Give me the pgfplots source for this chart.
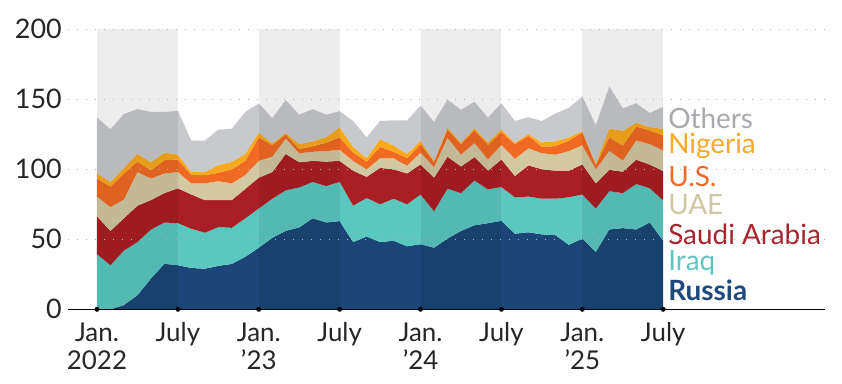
\documentclass[border=0pt]{standalone}
\usepackage{pgfplots}
\pgfplotsset{compat=1.18}
\usepackage{pgfplotstable}
\usepackage{fontspec}
\setmainfont{Lato}

\definecolor{russia}{HTML}{1B4677}
\definecolor{iraq}{HTML}{5BC8C0}
\definecolor{saudi}{HTML}{AA1E25}
\definecolor{uae}{HTML}{D2C8A2}
\definecolor{us}{HTML}{F06A24}
\definecolor{nigeria}{HTML}{F8AA1C}
\definecolor{others}{HTML}{C8C9CD}
\definecolor{tRussia}{HTML}{1E4A7B}
\definecolor{tIraq}{HTML}{62C5BF}
\definecolor{tSaudi}{HTML}{A9232C}
\definecolor{tUAE}{HTML}{CFC6A4}
\definecolor{tUS}{HTML}{EE6B2C}
\definecolor{tNigeria}{HTML}{F7A928}
\definecolor{tOthers}{HTML}{A8A9AD}

\pgfplotstableread{
m R I S U US N O
0 0 39.4 27 14.1 12.9 3.6 40
1 0 31.5 24.5 17 14.6 3.4 37.6
2 3 39 23 13.5 18.5 4 38.5
3 10 38 26 24 7.5 5.5 32
4 22 35 21 15.4 5.9 5.7 36
5 32.5 29.5 21 14 9.5 5.5 29
6 31.5 30 24.9 11.6 9 3.5 31.2
7 29.5 28 24.5 8 6 2 22.5
8 29 25.7 23.3 12 5.8 2.2 22.4
9 31 27.7 19.3 13.5 6 5.5 25.3
10 32.4 25.8 19.8 12 10 5.3 23.7
11 37.5 27.5 21 10 10 5 30
12 44 28 22 12 16.8 3.5 20.7
13 51 28 19 11 8.2 1.3 18
14 56 29 26 11 3 1 23.5
15 58.5 28.5 18 6.5 3 3.5 21
16 65 26 15 6.5 4 3.5 23
17 62 26 17.5 7.5 6 4 16
18 63 28 15 8 8.8 7.2 11.5
19 48 26 25 7 6 4 18.5
20 52 27.5 15.1 5.4 5.5 2.5 14.8
21 48 27 26 7 8 5.6 12.9
22 49 30 21 8 4.5 4.5 18
23 45 30 22 5.5 5.5 3 24
24 46.5 35.5 21.5 8.5 6 2.5 25
25 44 26 24 7.6 3.6 0.8 27.8
26 50.5 35.7 22.8 13.5 5.9 1.4 20
27 56 27 19 8.5 7.5 1 23.5
28 60 32 16.7 10.1 9.2 1.5 18.7
29 61.5 24.2 13.3 8 10.5 1.7 17.7
30 63.2 24.1 19.7 10.5 9 2.1 18.6
31 54 26 15.2 12.3 10.5 1 15.5
32 55 25.5 22.3 12.2 9 1.3 11.9
33 53.5 25.5 21 11.5 4.5 3.2 15.3
34 53 26 20 11.5 6.1 3.4 19.8
35 46 34 19 14 7.4 2.4 21.1
36 50.5 31.5 21.5 13.7 9.3 1 24.5
37 41 31 18 10 3 1 27.5
38 57 27.3 15.3 13.6 9.6 6.4 30
39 58 25 15.3 8 10.7 10.5 16
40 57 32.5 17.3 13.8 10 2.7 13.9
41 62 24.5 16.9 14.6 9.7 2.5 10
42 49 28.8 20.9 14.7 10.8 4.6 15.8
}\imports

\begin{document}
\begin{tikzpicture}
\begin{axis}[
  scale only axis, width=757bp, height=280bp,
  xmin=-2.15, xmax=54, ymin=0, ymax=200,
  clip=false, axis on top,
  axis x line*=bottom, axis y line*=left,
  y axis line style={draw=none},
  x axis line style={line width=1.3bp, black, -},
  major tick length=0pt,
  ytick={0,50,100,150,200},
  yticklabels={0,50,100,150,200},
  yticklabel style={font=\fontsize{27}{27}\selectfont, text=black!85, inner sep=0pt, xshift=-6bp},
  xtick={0,6,12,18,24,30,36,42},
  xticklabels={{Jan.\\2022},{July},{Jan.\\’23},{July},{Jan.\\’24},{July},{Jan.\\’25},{July}},
  xticklabel style={font=\fontsize{26}{29}\selectfont, text=black!85, align=center, inner sep=0pt, yshift=-13bp},
  ymajorgrids,
  grid style={black!30, line width=1.2bp, dash pattern=on 1.2bp off 7.8bp},
]
\addplot[stack plots=y, draw=none, fill=russia] table[x=m,y=R]{\imports} \closedcycle;
\addplot[stack plots=y, draw=none, fill=iraq] table[x=m,y=I]{\imports} \closedcycle;
\addplot[stack plots=y, draw=none, fill=saudi] table[x=m,y=S]{\imports} \closedcycle;
\addplot[stack plots=y, draw=none, fill=uae] table[x=m,y=U]{\imports} \closedcycle;
\addplot[stack plots=y, draw=none, fill=us] table[x=m,y=US]{\imports} \closedcycle;
\addplot[stack plots=y, draw=none, fill=nigeria] table[x=m,y=N]{\imports} \closedcycle;
\addplot[stack plots=y, draw=none, fill=others] table[x=m,y=O]{\imports} \closedcycle;

\addplot[draw=none, fill=black, fill opacity=0.07] coordinates {(0,200) (6,200)} \closedcycle;
\addplot[draw=none, fill=black, fill opacity=0.07] coordinates {(12,200) (18,200)} \closedcycle;
\addplot[draw=none, fill=black, fill opacity=0.07] coordinates {(24,200) (30,200)} \closedcycle;
\addplot[draw=none, fill=black, fill opacity=0.07] coordinates {(36,200) (42,200)} \closedcycle;

\addplot[only marks, mark=*, mark size=2.2bp, black] coordinates {(0,0) (6,0) (12,0) (18,0) (24,0) (30,0) (36,0) (42,0)};

\node[anchor=base west, inner sep=0pt, font=\fontsize{28}{28}\selectfont, text=tOthers] at (axis cs:42.36,129) {Others};
\node[anchor=base west, inner sep=0pt, font=\fontsize{28}{28}\selectfont, text=tNigeria] at (axis cs:42.36,111) {Nigeria};
\node[anchor=base west, inner sep=0pt, font=\fontsize{28}{28}\selectfont, text=tUS] at (axis cs:42.36,87.5) {U.S.};
\node[anchor=base west, inner sep=0pt, font=\fontsize{28}{28}\selectfont, text=tUAE] at (axis cs:42.36,67.6) {UAE};
\node[anchor=base west, inner sep=0pt, font=\fontsize{28}{28}\selectfont, text=tSaudi] at (axis cs:42.36,46.5) {Saudi Arabia};
\node[anchor=base west, inner sep=0pt, font=\fontsize{28}{28}\selectfont, text=tIraq] at (axis cs:42.36,27.7) {Iraq};
\node[anchor=base west, inner sep=0pt, font=\fontsize{28}{28}\bfseries\selectfont, text=tRussia] at (axis cs:42.36,6.5) {Russia};
\coordinate (SW) at (rel axis cs:0,0);
\end{axis}
\path (SW) ++(-68bp,-74.7bp) rectangle ++(842bp,384bp);
\end{tikzpicture}
\end{document}
